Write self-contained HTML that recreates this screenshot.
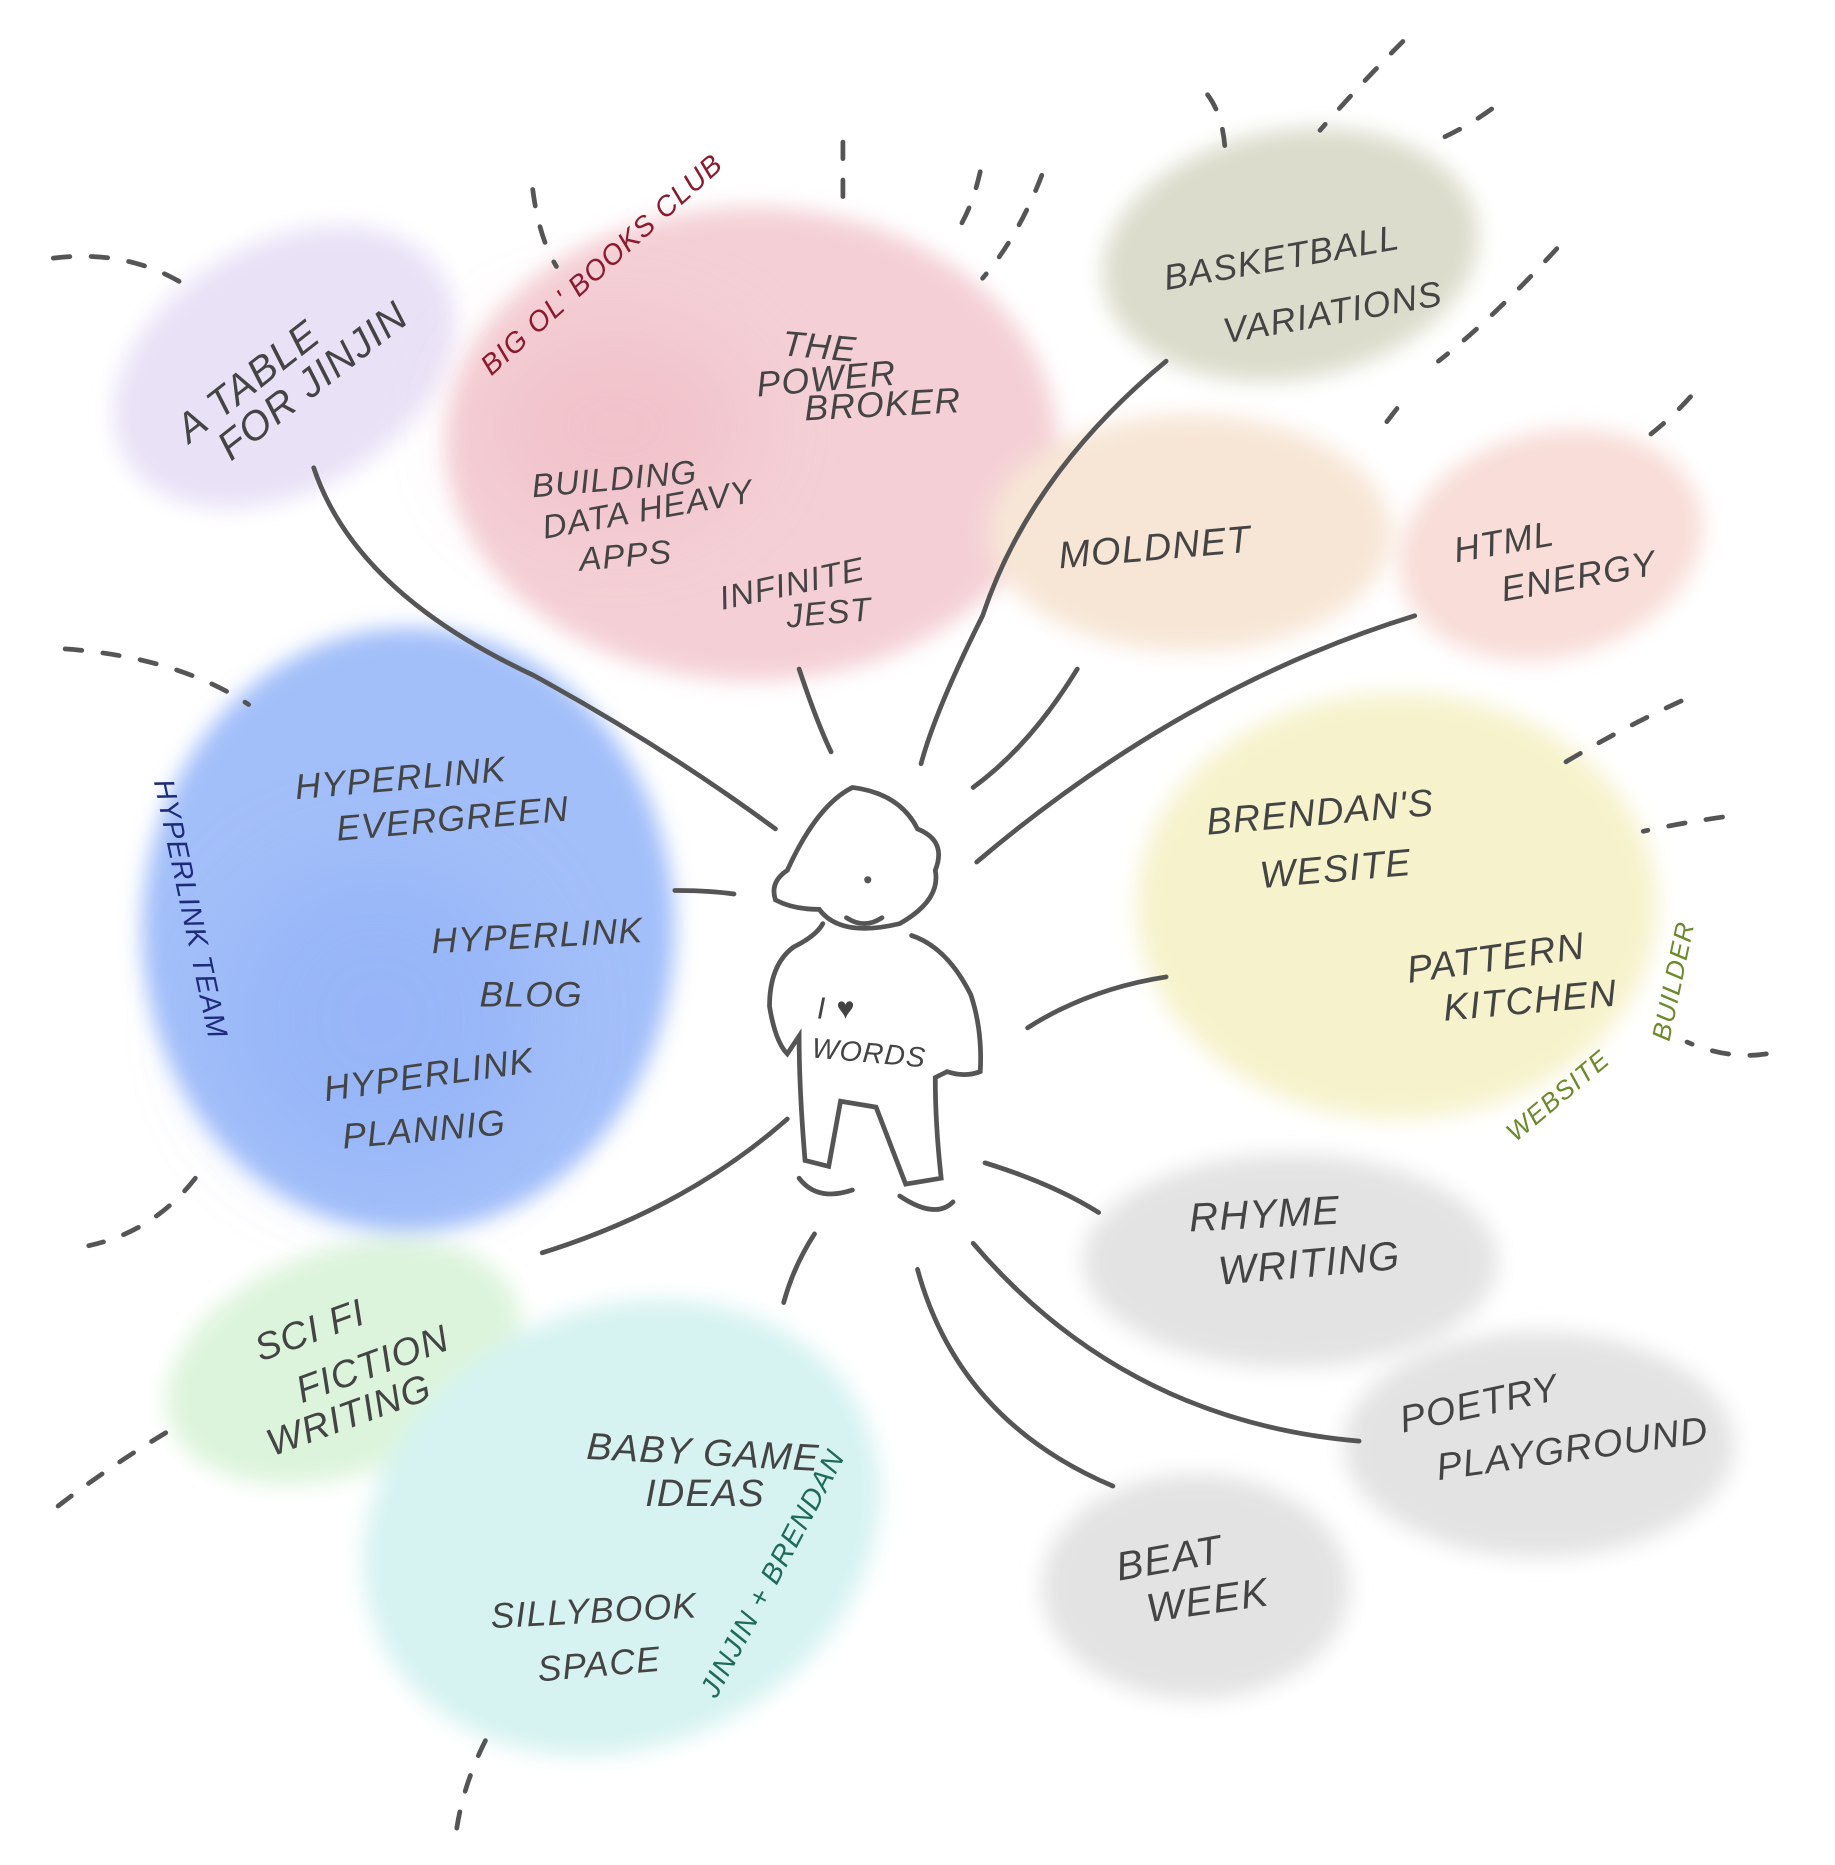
<!DOCTYPE html>
<html><head><meta charset="utf-8"><style>
html,body{margin:0;padding:0;background:#fff;}
svg{display:block;}
text{font-family:"Liberation Sans",sans-serif;font-style:italic;letter-spacing:1px;}
</style></head><body>
<svg width="1835" height="1865" viewBox="0 0 1550 1575" preserveAspectRatio="none">
<defs>
<filter id="b" x="-20%" y="-20%" width="140%" height="140%"><feGaussianBlur stdDeviation="9"/></filter>
<filter id="b2" x="-40%" y="-40%" width="180%" height="180%"><feGaussianBlur stdDeviation="40"/></filter>
</defs>
<rect width="1550" height="1575" fill="#fff"/>
<g filter="url(#b)">
<ellipse cx="240" cy="310" rx="155" ry="105" transform="rotate(-30 240 310)" fill="#e9e2f7"/>
<ellipse cx="635" cy="375" rx="258" ry="200" fill="#f4d0d6"/>
<ellipse cx="1090" cy="215" rx="160" ry="105" transform="rotate(-10 1090 215)" fill="#dcdccc"/>
<ellipse cx="1005" cy="450" rx="170" ry="100" fill="#f7e6d6"/>
<ellipse cx="1310" cy="460" rx="130" ry="95" transform="rotate(-15 1310 460)" fill="#f8ddd8"/>
<ellipse cx="345" cy="785" rx="225" ry="255" fill="#a3bff9"/>
<ellipse cx="1180" cy="765" rx="220" ry="180" fill="#f6f3cc"/>
<ellipse cx="290" cy="1150" rx="155" ry="95" transform="rotate(-20 290 1150)" fill="#ddf4dc"/>
<ellipse cx="525" cy="1290" rx="225" ry="185" transform="rotate(-25 525 1290)" fill="#d6f3f1"/>
<ellipse cx="1090" cy="1065" rx="175" ry="90" fill="#e3e3e3"/>
<ellipse cx="1300" cy="1220" rx="165" ry="95" fill="#e3e3e3"/>
<ellipse cx="1010" cy="1340" rx="130" ry="95" fill="#e3e3e3"/>
</g>
<g filter="url(#b2)" opacity="0.6">
<ellipse cx="320" cy="860" rx="130" ry="130" fill="#8fb0f7"/>
<ellipse cx="520" cy="360" rx="110" ry="80" fill="#f0b8c2"/>
</g>
<g fill="none" stroke="#555" stroke-width="4" stroke-linecap="round">
<path d="M265 395 Q300 500 450 570 Q560 630 655 700"/>
<path d="M675 565 Q690 610 702 635"/>
<path d="M985 305 Q870 400 830 520 Q790 600 778 645"/>
<path d="M910 565 Q870 630 822 665"/>
<path d="M1195 520 Q1000 580 825 728"/>
<path d="M985 825 Q920 835 868 868"/>
<path d="M570 752 Q600 752 620 755"/>
<path d="M665 945 Q580 1020 458 1058"/>
<path d="M688 1042 Q670 1070 662 1100"/>
<path d="M775 1072 Q810 1200 940 1255"/>
<path d="M822 1050 Q950 1200 1148 1217"/>
<path d="M832 982 Q890 1000 928 1024"/>
<path d="M720 665 Q690 680 665 735 Q650 745 655 760 Q670 768 692 768 Q710 792 760 780 Q795 760 790 735 Q800 710 775 700 Q760 670 720 665"/>
<path d="M695 780 Q690 790 670 800 Q650 815 650 850 Q655 880 665 890 L675 875 Q675 920 680 980 L700 985 L710 930 L740 935 L765 1000 L795 995 Q790 950 790 910 L800 905 Q815 910 828 905 Q830 870 820 840 Q800 800 770 790"/>
<path d="M675 995 Q690 1015 720 1005 M760 1010 Q790 1030 805 1015"/>
<path d="M715 775 Q730 785 745 775"/>
</g>
<circle cx="733" cy="743" r="3" fill="#555"/>
<g stroke="#555" stroke-width="4" stroke-dasharray="14 18" fill="none" stroke-linecap="round">
<path d="M45 218 Q110 210 160 243"/><path d="M450 160 Q455 200 470 225"/><path d="M712 120 L712 172"/>
<path d="M828 145 Q820 180 805 200"/><path d="M880 148 Q860 200 830 235"/><path d="M1020 80 Q1035 100 1035 135"/>
<path d="M1185 35 Q1150 70 1115 110"/><path d="M1260 92 Q1235 110 1210 120"/><path d="M1315 210 Q1260 270 1215 305"/>
<path d="M1180 345 L1170 358"/><path d="M1428 335 Q1410 355 1390 370"/><path d="M55 548 Q150 555 210 595"/>
<path d="M1420 592 Q1370 615 1320 645"/><path d="M1455 690 Q1420 695 1388 702"/><path d="M1492 890 Q1460 895 1425 880"/>
<path d="M165 995 Q130 1040 75 1052"/><path d="M140 1210 Q90 1240 45 1275"/><path d="M410 1470 Q390 1510 385 1550"/>
</g>
<g fill="#444" font-size="34" font-weight="400">
<text transform="translate(160 375) rotate(-38)">A TABLE</text>
<text transform="translate(195 390) rotate(-38)">FOR JINJIN</text>
<text transform="translate(660 300) rotate(5)" font-size="30">THE</text>
<text transform="translate(640 335) rotate(-5)" font-size="30">POWER</text>
<text transform="translate(680 355) rotate(-3)" font-size="30">BROKER</text>
<text transform="translate(450 420) rotate(-5)" font-size="28">BUILDING</text>
<text transform="translate(460 455) rotate(-10)" font-size="28">DATA HEAVY</text>
<text transform="translate(490 482) rotate(-5)" font-size="28">APPS</text>
<text transform="translate(610 515) rotate(-12)" font-size="28">INFINITE</text>
<text transform="translate(665 530) rotate(-5)" font-size="28">JEST</text>
<text transform="translate(985 245) rotate(-10)" font-size="30">BASKETBALL</text>
<text transform="translate(1035 290) rotate(-10)" font-size="30">VARIATIONS</text>
<text transform="translate(895 480) rotate(-5)" font-size="32">MOLDNET</text>
<text transform="translate(1230 475) rotate(-10)" font-size="30">HTML</text>
<text transform="translate(1270 508) rotate(-10)" font-size="30">ENERGY</text>
<text transform="translate(250 675) rotate(-5)" font-size="30">HYPERLINK</text>
<text transform="translate(285 710) rotate(-5)" font-size="30">EVERGREEN</text>
<text transform="translate(365 805) rotate(-3)" font-size="30">HYPERLINK</text>
<text transform="translate(405 850)" font-size="30">BLOG</text>
<text transform="translate(275 930) rotate(-8)" font-size="30">HYPERLINK</text>
<text transform="translate(290 970) rotate(-5)" font-size="30">PLANNIG</text>
<text transform="translate(1020 705) rotate(-5)" font-size="32">BRENDAN'S</text>
<text transform="translate(1065 750) rotate(-5)" font-size="32">WESITE</text>
<text transform="translate(1190 830) rotate(-8)" font-size="32">PATTERN</text>
<text transform="translate(1220 862) rotate(-5)" font-size="32">KITCHEN</text>
<text transform="translate(220 1150) rotate(-20)" font-size="32">SCI FI</text>
<text transform="translate(255 1185) rotate(-20)" font-size="32">FICTION</text>
<text transform="translate(230 1230) rotate(-20)" font-size="32">WRITING</text>
<text transform="translate(495 1232) rotate(3)" font-size="32">BABY GAME</text>
<text transform="translate(545 1272)" font-size="32">IDEAS</text>
<text transform="translate(415 1375) rotate(-3)" font-size="30">SILLYBOOK</text>
<text transform="translate(455 1420) rotate(-5)" font-size="30">SPACE</text>
<text transform="translate(1005 1040) rotate(-3)" font-size="34">RHYME</text>
<text transform="translate(1030 1085) rotate(-5)" font-size="34">WRITING</text>
<text transform="translate(1185 1210) rotate(-12)" font-size="32">POETRY</text>
<text transform="translate(1215 1250) rotate(-8)" font-size="32">PLAYGROUND</text>
<text transform="translate(945 1335) rotate(-10)" font-size="34">BEAT</text>
<text transform="translate(970 1370) rotate(-8)" font-size="34">WEEK</text>
<text transform="translate(690 860)" font-size="26">I ♥</text>
<text transform="translate(685 893) rotate(5)" font-size="24">WORDS</text>
</g>
<text transform="translate(415 318) rotate(-42)" font-size="24" fill="#8b1a2e">BIG OL' BOOKS CLUB</text>
<text transform="translate(130 660) rotate(78)" font-size="24" fill="#1e2a7a">HYPERLINK TEAM</text>
<text transform="translate(1280 965) rotate(-40)" font-size="22" fill="#6b8a2a">WEBSITE</text>
<text transform="translate(1410 880) rotate(-78)" font-size="22" fill="#6b8a2a">BUILDER</text>
<text transform="translate(605 1435) rotate(-62)" font-size="24" fill="#1f6a5a">JINJIN + BRENDAN</text>
</svg>
</body></html>
